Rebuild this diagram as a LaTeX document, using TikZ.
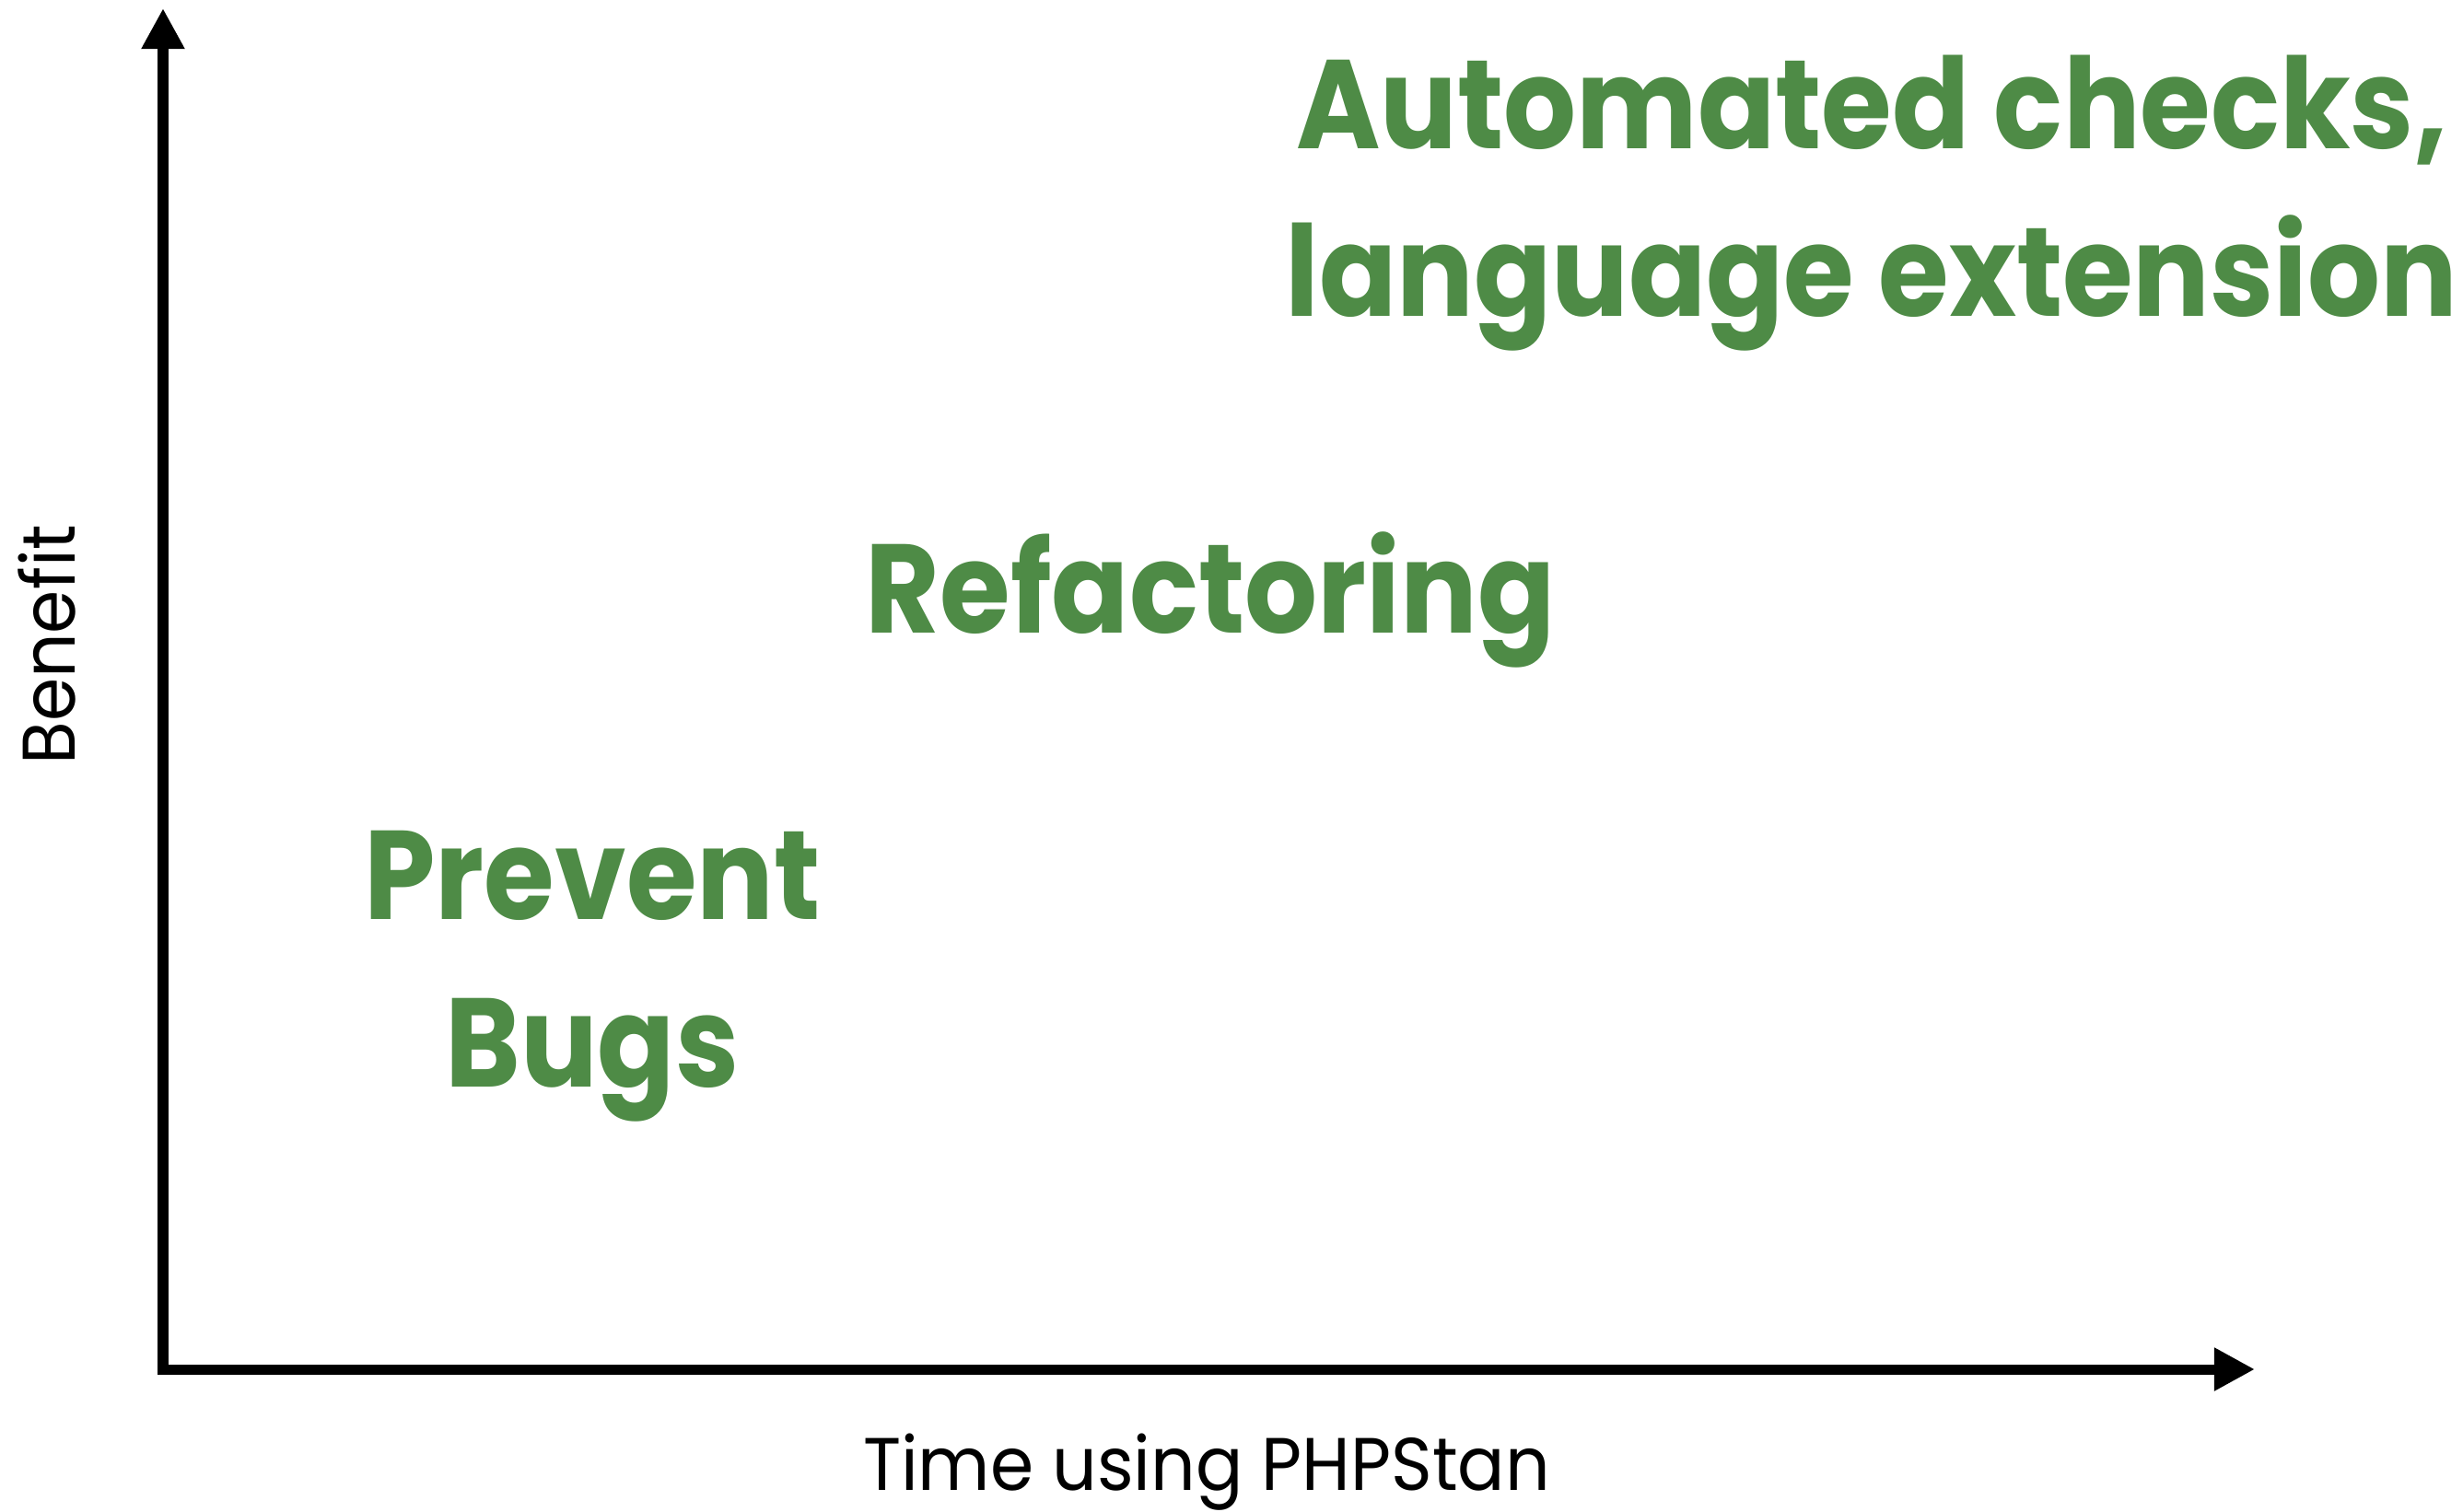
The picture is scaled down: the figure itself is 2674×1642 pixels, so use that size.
\documentclass[tikz,border=0pt]{standalone}
\usepackage{fontspec}
\setmainfont{Poppins}
\newfontfamily\stagefont{Poppins}[FakeStretch=0.905]
\newfontfamily\axisfont{Poppins}[FakeStretch=0.94]
\usepackage{xcolor}
\usetikzlibrary{arrows.meta}
\definecolor{stangreen}{RGB}{78,139,70}

\begin{document}
\begin{tikzpicture}[x=0.01cm,y=-0.01cm,
	axis/.style={line width=0.11cm, line join=miter, {Triangle[length=0.44cm,width=0.44cm]}-{Triangle[length=0.44cm,width=0.44cm]}},
	axislabel/.style={font=\axisfont\fontsize{23}{28}\selectfont, anchor=base, inner sep=0pt},
	stage/.style={text=stangreen, font=\stagefont\fontsize{39}{51.5}\selectfont\bfseries, align=center, anchor=base, inner sep=0pt}]
	%page size fixed by hand
	\useasboundingbox (0,0) rectangle (2674,1642);
	%axes meet at the origin
	\coordinate (origin) at (177,1487);
	\coordinate (ytip) at (177,9);
	\coordinate (xtip) at (2448,1487);
	\draw[axis] (ytip) -- (origin) -- (xtip);
	%% axis names
	\node[axislabel] (time) at (1310,1618) {Time using PHPStan};
	\node[axislabel, rotate=90] (benefit) at (81,700) {Benefit};
	%% the three stages
	\node[stage] (bugs) at (643,1180) {Prevent\\Bugs};
	\node[stage] (refactoring) at (1314,687) {Refactoring};
	\node[stage] (checks) at (2032,343) {Automated checks,\\language extension};
\end{tikzpicture}
\end{document}
